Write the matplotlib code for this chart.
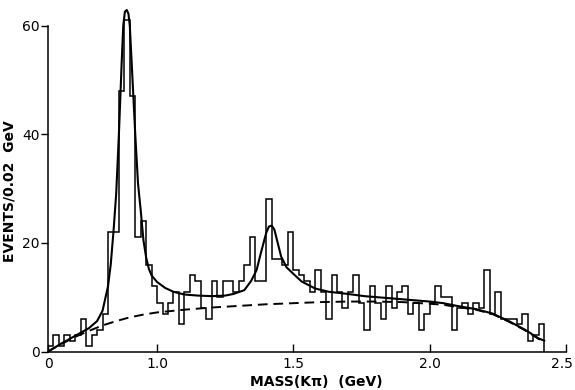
import numpy as np
import matplotlib
matplotlib.use("Agg")
import matplotlib.pyplot as plt
from matplotlib.transforms import ScaledTranslation

# events per 0.02 GeV bin, starting at 0.60 GeV
counts = [1, 3, 1, 3, 2, 3, 6, 1, 3, 4,
          7, 22, 22, 48, 61, 47, 21, 24, 16, 12,
          9, 7, 9, 11, 5, 11, 14, 13, 8, 6,
          13, 10, 13, 13, 11, 13, 16, 21, 13, 13,
          28, 17, 17, 16, 22, 15, 14, 13, 11, 15,
          11, 6, 14, 11, 8, 11, 14, 9, 4, 12,
          9, 6, 12, 8, 11, 12, 7, 9, 4, 7,
          9, 12, 10, 10, 4, 8, 9, 7, 9, 8,
          15, 7, 11, 6, 6, 6, 5, 7, 2, 3,
          5]
bin_start = 0.60
bin_width = 0.02

# fitted curve (solid)
fit_mass = [0.60, 0.65, 0.70, 0.75, 0.78, 0.80, 0.82, 0.83, 0.84, 0.85,
            0.86, 0.87, 0.876, 0.882, 0.889, 0.895, 0.90, 0.91, 0.92, 0.93,
            0.94, 0.95, 0.96, 0.97, 0.98, 1.00, 1.03, 1.06, 1.10, 1.15,
            1.20, 1.25, 1.28, 1.32, 1.345, 1.365, 1.38, 1.40, 1.41, 1.42,
            1.43, 1.44, 1.455, 1.475, 1.50, 1.53, 1.58, 1.63, 1.70, 1.76,
            1.88, 2.00, 2.05, 2.10, 2.17, 2.23, 2.29, 2.35, 2.40, 2.42]
fit_events = [0.0, 1.5, 2.9, 4.3, 5.6, 7.5, 12.0, 16.0, 22.0, 29.0,
              40.0, 53.0, 60.0, 62.6, 62.9, 62.2, 60.0, 50.0, 40.0, 31.0,
              26.0, 20.5, 17.3, 15.2, 14.0, 12.8, 11.7, 11.0, 10.5, 10.3,
              10.2, 10.3, 10.6, 11.3, 13.0, 15.0, 18.0, 21.8, 23.0, 23.2,
              22.5, 20.5, 17.5, 15.5, 14.3, 12.9, 11.6, 11.0, 10.6, 10.2,
              9.7, 9.2, 8.9, 8.4, 7.8, 7.0, 5.6, 4.0, 2.4, 2.0]

# background (dashed)
bg_mass = [0.60, 0.65, 0.70, 0.75, 0.80, 0.85, 0.90, 0.95, 1.00, 1.10,
           1.20, 1.30, 1.40, 1.50, 1.60, 1.70, 1.80, 1.90, 2.00, 2.05,
           2.10, 2.17, 2.23, 2.29, 2.35, 2.40, 2.42]
bg_events = [0.0, 1.4, 2.7, 3.8, 4.8, 5.6, 6.3, 6.8, 7.2, 7.7,
             8.1, 8.4, 8.7, 8.9, 9.1, 9.2, 9.2, 9.1, 8.8, 8.6,
             8.2, 7.7, 6.9, 5.5, 3.9, 2.3, 1.9]

edges = bin_start + bin_width * np.arange(len(counts) + 1)

fig = plt.figure(figsize=(5.75, 3.9), dpi=100)
ax = fig.add_axes([0.0835, 0.0987, 0.9009, 0.884])

ax.stairs(counts, edges, color="black", linewidth=1.1)
ax.plot(fit_mass, fit_events, color="black", linewidth=1.5)
ax.plot(bg_mass, bg_events, color="black", linewidth=1.4, linestyle=(0, (5, 3)))

ax.set_xlim(0.6, 2.5)
ax.set_ylim(0, 63.5)

ax.spines["top"].set_visible(False)
ax.spines["right"].set_visible(False)
ax.spines["left"].set_bounds(0, 60)
ax.spines["left"].set_linewidth(1.1)
ax.spines["bottom"].set_linewidth(1.1)

ax.set_xticks([0.6, 1.0, 1.5, 2.0, 2.5], ["0", "1.0", "1.5", "2.0", "2.5"])
ax.set_yticks([0, 20, 40, 60])
ax.tick_params(axis="x", direction="in", length=6, width=1, pad=4, labelsize=10)
ax.tick_params(axis="y", direction="out", length=5, width=1, pad=1, labelsize=10)

# nudge the last x label so it stays inside the figure
last = ax.get_xticklabels()[-1]
last.set_transform(last.get_transform() + ScaledTranslation(-4 / 100, 0, fig.dpi_scale_trans))

ax.set_xlabel("MASS(K\u03c0)  (GeV)", fontsize=10, fontweight="bold", va="top")
ax.xaxis.set_label_coords(0.517, -0.068)
ax.set_ylabel("EVENTS/0.02  GeV", fontsize=10, fontweight="bold")
ax.yaxis.set_label_coords(-0.06, 0.464)

fig.savefig("out.png", dpi=100)
